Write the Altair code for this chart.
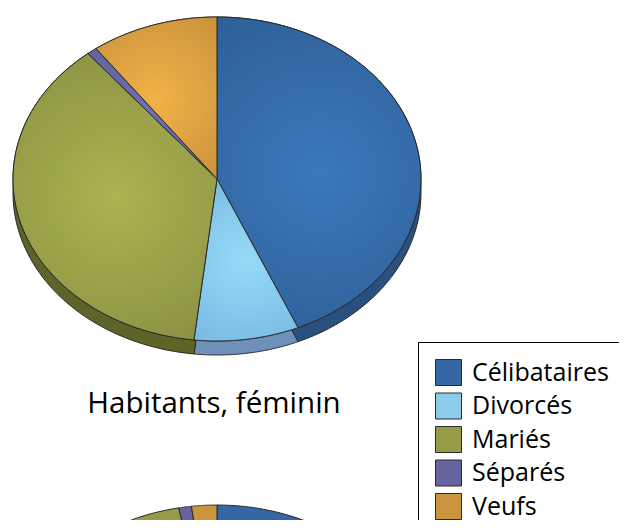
import altair as alt
import pandas as pd

# ---- data ----
categories = ["Célibataires", "Divorcés", "Mariés", "Séparés", "Veufs"]
feminin = [43.5, 8.3, 37.3, 0.8, 10.1]          # upper pie (percent)
second_pie = [52.0, 6.0, 39.0, 1.0, 2.0]        # lower pie, only its top edge is visible
title_text = "Habitants, féminin"

# ---- styles ----
top_colors = ["#3467a3", "#8ccbea", "#969b46", "#6765a0", "#c9963f"]
side_colors = ["#29507f", "#6f91b9", "#5e6328", "#44446f", "#8a6528"]
shade_center = ["#3b79bb", "#95dbf7", "#abb450", "#6f6fb6", "#f1b246"]
shade_edge = ["#2e5f97", "#79b9e2", "#8a9042", "#64649f", "#cc933d"]

W, H = 611, 512
RX, RY, DEPTH = 204, 162, 14
PIE1 = (209, 171)
PIE2 = (209, 659)
STEPS = 72


def pie_frame(values):
    return pd.DataFrame({
        "cat": categories,
        "value": values,
        "k": list(range(len(categories))),
        "side": side_colors,
    })


def slices(values, cx, cy):
    return (
        alt.Chart(pie_frame(values))
        .transform_joinaggregate(total="sum(value)")
        .transform_window(cum="sum(value)", sort=[alt.SortField("k")])
        .transform_calculate(
            a0="2*PI*(datum.cum - datum.value)/datum.total",
            a1="2*PI*datum.cum/datum.total",
            steps=f"sequence(-1, {STEPS + 1})",
        )
        .transform_flatten(["steps"], as_=["s"])
        .transform_calculate(
            t=f"datum.a0 + (datum.a1 - datum.a0) * max(datum.s, 0) / {STEPS}",
            px=f"datum.s < 0 ? {cx} : {cx} + {RX} * sin(datum.t)",
            py=f"datum.s < 0 ? {cy} : {cy} - {RY} * cos(datum.t)",
        )
    )


xs = alt.X("px:Q", scale=alt.Scale(domain=[0, W], nice=False, zero=False), axis=None)
ys = alt.Y("py:Q", scale=alt.Scale(domain=[0, H], nice=False, zero=False, reverse=True), axis=None)

line_kw = dict(interpolate="linear-closed", stroke="#2a2a2a", strokeWidth=1, clip=True)

side1 = slices(feminin, PIE1[0], PIE1[1] + DEPTH).mark_line(**line_kw).encode(
    x=xs, y=ys, detail="cat:N", order="s:Q",
    fill=alt.Fill("side:N", scale=None),
)

legend = alt.Legend(
    orient="none", legendX=410, legendY=334, title=None,
    symbolType="square", symbolSize=676, symbolStrokeColor="#222222", symbolStrokeWidth=1,
    symbolOpacity=1,
    labelFont="Open Sans", labelFontSize=25, labelColor="black", labelOffset=10,
    rowPadding=2.5, padding=17, strokeColor="black", fillColor="white",
)

fill_scale = alt.Scale(domain=categories, range=top_colors)

top1 = slices(feminin, *PIE1).mark_line(**line_kw).encode(
    x=xs, y=ys, detail="cat:N", order="s:Q",
    fill=alt.Fill("cat:N", scale=fill_scale, legend=legend, sort=categories),
)

shaded = []
for cat, c0, c1 in zip(categories, shade_center, shade_edge):
    grad = alt.RadialGradient(
        gradient="radial",
        stops=[alt.GradientStop(offset=0, color=c0), alt.GradientStop(offset=1, color=c1)],
        x1=0.5, y1=0.5, r1=0, x2=0.5, y2=0.5, r2=0.6,
    )
    shaded.append(
        slices(feminin, *PIE1)
        .transform_filter(alt.datum.cat == cat)
        .mark_line(fill=grad, **line_kw)
        .encode(x=xs, y=ys, order="s:Q")
    )

top2 = slices(second_pie, *PIE2).mark_line(**line_kw).encode(
    x=xs, y=ys, detail="cat:N", order="s:Q",
    fill=alt.Fill("cat:N", scale=fill_scale, sort=categories),
)

title = alt.Chart(pd.DataFrame({"t": [title_text]})).mark_text(
    font="Open Sans", fontSize=29.5, align="center", baseline="alphabetic", color="black"
).encode(x=alt.value(206), y=alt.value(405), text="t:N")

chart = (
    alt.layer(side1, top1, *shaded, top2, title)
    .properties(width=W, height=H, padding=0, autosize="none")
    .configure_view(stroke=None)
)

chart.save("out.html", embed_options={"renderer": "svg", "actions": False})
